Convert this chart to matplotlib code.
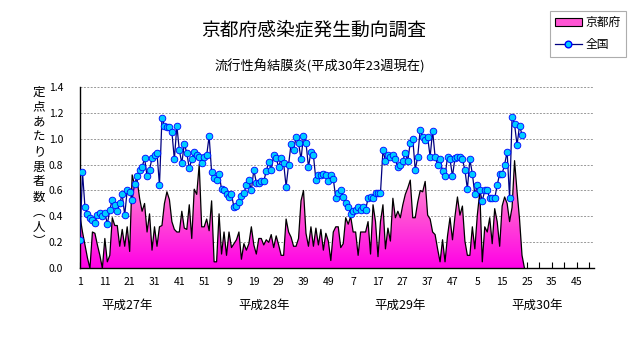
import numpy as np
import matplotlib
matplotlib.use('Agg')
import matplotlib.pyplot as plt
from matplotlib.patches import Patch
from matplotlib.lines import Line2D
from matplotlib.colors import LinearSegmentedColormap

plt.rcParams['font.family'] = ['Noto Sans CJK JP', 'DejaVu Sans']

# Data: weekly values from 平成27年 week 1 to 平成30年 week 23
kyoto = [0.40, 0.28, 0.18, 0.08, 0.00, 0.28, 0.27, 0.18, 0.10, 0.00,
         0.23, 0.05, 0.10, 0.39, 0.33, 0.33, 0.17, 0.30, 0.17, 0.32,
         0.13, 0.72, 0.64, 0.68, 0.54, 0.44, 0.50, 0.28, 0.42, 0.14,
         0.32, 0.17, 0.32, 0.33, 0.50, 0.59, 0.53, 0.36, 0.30, 0.28,
         0.28, 0.44, 0.31, 0.30, 0.49, 0.23, 0.61, 0.57, 0.80, 0.32,
         0.32, 0.38, 0.29, 0.52, 0.05, 0.05, 0.42, 0.11, 0.28, 0.10,
         0.28, 0.16, 0.19, 0.22, 0.28, 0.07, 0.19, 0.14, 0.19, 0.32,
         0.18, 0.11, 0.23, 0.23, 0.18, 0.22, 0.20, 0.26, 0.16, 0.25,
         0.18, 0.10, 0.10, 0.38, 0.28, 0.24, 0.17, 0.17, 0.23, 0.52,
         0.60, 0.27, 0.17, 0.32, 0.17, 0.31, 0.18, 0.30, 0.14, 0.27,
         0.21, 0.06, 0.28, 0.32, 0.32, 0.16, 0.19, 0.39, 0.34, 0.40,
         0.28, 0.28, 0.10, 0.28, 0.28, 0.28, 0.36, 0.11, 0.49, 0.36,
         0.09, 0.36, 0.49, 0.15, 0.31, 0.21, 0.54, 0.39, 0.44, 0.39,
         0.49, 0.57, 0.62, 0.68, 0.39, 0.39, 0.51, 0.60, 0.59, 0.67,
         0.41, 0.38, 0.28, 0.26, 0.15, 0.05, 0.22, 0.05, 0.25, 0.39,
         0.22, 0.40, 0.55, 0.41, 0.48, 0.21, 0.10, 0.10, 0.32, 0.15,
         0.41, 0.59, 0.05, 0.32, 0.28, 0.39, 0.19, 0.46, 0.36, 0.17,
         0.48, 0.55, 0.50, 0.36, 0.47, 0.83, 0.59, 0.38, 0.10, 0.00]

national = [0.22, 0.74, 0.47, 0.42, 0.39, 0.37, 0.35, 0.41, 0.43, 0.40,
            0.43, 0.34, 0.45, 0.53, 0.49, 0.44, 0.50, 0.57, 0.41, 0.60,
            0.59, 0.53, 0.65, 0.71, 0.76, 0.78, 0.85, 0.71, 0.76, 0.85,
            0.87, 0.89, 0.64, 1.16, 1.10, 1.09, 1.09, 1.05, 0.84, 1.10,
            0.91, 0.81, 0.96, 0.89, 0.77, 0.84, 0.90, 0.87, 0.86, 0.81,
            0.86, 0.87, 1.02, 0.74, 0.70, 0.68, 0.73, 0.61, 0.60, 0.57,
            0.55, 0.57, 0.47, 0.48, 0.51, 0.56, 0.58, 0.64, 0.68, 0.60,
            0.76, 0.66, 0.66, 0.67, 0.67, 0.75, 0.82, 0.76, 0.87, 0.85,
            0.78, 0.85, 0.81, 0.63, 0.80, 0.96, 0.91, 1.01, 0.97, 0.84,
            1.02, 0.97, 0.78, 0.90, 0.87, 0.68, 0.72, 0.72, 0.73, 0.72,
            0.67, 0.72, 0.69, 0.54, 0.58, 0.60, 0.55, 0.50, 0.47, 0.42,
            0.44, 0.45, 0.47, 0.45, 0.47, 0.45, 0.54, 0.55, 0.54, 0.58,
            0.58, 0.58, 0.91, 0.83, 0.87, 0.86, 0.87, 0.84, 0.78, 0.80,
            0.83, 0.89, 0.83, 0.97, 1.00, 0.76, 0.86, 1.07, 1.01, 0.99,
            1.01, 0.86, 1.06, 0.86, 0.80, 0.84, 0.75, 0.71, 0.86, 0.84,
            0.71, 0.85, 0.86, 0.86, 0.84, 0.76, 0.61, 0.84, 0.73, 0.57,
            0.64, 0.60, 0.52, 0.60, 0.60, 0.54, 0.54, 0.54, 0.64, 0.73,
            0.73, 0.80, 0.90, 0.54, 1.17, 1.11, 0.95, 1.10, 1.03]

week_labels = ['1', '11', '21', '31', '41', '51', '9', '19', '29', '39', '49',
               '7', '17', '27', '37', '47', '5', '15', '25', '35', '45']
year_labels = ['平成27年', '平成28年', '平成29年', '平成30年']
year_centers = [19, 74, 129, 184]
n_weeks = 208

x_k = np.arange(len(kyoto))
x_n = np.arange(len(national))

fig = plt.figure(figsize=(6.31, 3.47), dpi=100)
ax = fig.add_axes([0.1268, 0.2268, 0.8146, 0.5232])

# Pink area with vertical gradient, clipped to the filled polygon
poly = ax.fill_between(x_k, kyoto, 0, facecolor='none', edgecolor='none')
cmap = LinearSegmentedColormap.from_list('pink', ['#ff00e6', '#ff55d4', '#ffaadd'])
grad = np.linspace(0, 1, 256).reshape(-1, 1)
img = ax.imshow(grad, cmap=cmap, aspect='auto', origin='lower',
                extent=[0, len(kyoto) - 1, 0, 0.85], zorder=1)
img.set_clip_path(poly.get_paths()[0], transform=ax.transData)
ax.plot(x_k, kyoto, color='black', lw=0.9, zorder=2)

ax.plot(x_n, national, color='#000080', lw=0.9, marker='o', markersize=4.8,
        markerfacecolor='#00ccff', markeredgecolor='#0000ff',
        markeredgewidth=0.6, zorder=3)

ax.set_xlim(0, n_weeks - 1)
ax.set_ylim(0, 1.4)
ax.set_yticks(np.arange(0, 1.41, 0.2))
ax.set_yticklabels(['%.1f' % v for v in np.arange(0, 1.41, 0.2)], fontsize=7.5)
ax.set_xticks(np.arange(0, 201, 10))
ax.set_xticklabels(week_labels, fontsize=7.5)
ax.set_xticks(np.arange(5, n_weeks, 10), minor=True)
ax.tick_params(axis='x', which='both', direction='in', length=4, width=0.8, pad=6)
ax.tick_params(axis='y', length=0, pad=12)
ax.grid(axis='y', color='#999999', linestyle=(0, (2, 1.5)), linewidth=0.7)
ax.set_axisbelow(True)
for s in ['top', 'right']:
    ax.spines[s].set_visible(False)
ax.spines['left'].set_linewidth(1.0)
ax.spines['bottom'].set_linewidth(1.0)

for lab, c in zip(year_labels, year_centers):
    ax.text(c, -0.205, lab, ha='center', va='center', fontsize=9,
            transform=ax.get_xaxis_transform())

fig.text(0.497, 0.915, '京都府感染症発生動向調査', ha='center', va='center', fontsize=13.5)
fig.text(0.507, 0.81, '流行性角結膜炎(平成30年23週現在)', ha='center', va='center', fontsize=9.5)

# Vertical y-axis label, one character per line
ylabel = '定点あたり患者数︵人︶'
for k, ch in enumerate(ylabel):
    fig.text(0.062, 1 - (92 + 15 * k) / 347, ch, ha='center', va='center',
             fontsize=9)

handles = [Patch(facecolor='#ff55d4', edgecolor='black', linewidth=0.8),
           Line2D([], [], color='#000080', lw=0.9, marker='o', markersize=4.8,
                  markerfacecolor='#00ccff', markeredgecolor='#0000ff')]
leg = fig.legend(handles, ['京都府', '全国'], loc='upper left',
                 bbox_to_anchor=(0.871, 0.968), fontsize=8.5, frameon=True,
                 fancybox=False, edgecolor='#999999', handlelength=2.3,
                 handletextpad=0.3, borderpad=0.45, labelspacing=0.75,
                 borderaxespad=0)
leg.get_frame().set_linewidth(0.8)

fig.savefig('out.png', dpi=100)
